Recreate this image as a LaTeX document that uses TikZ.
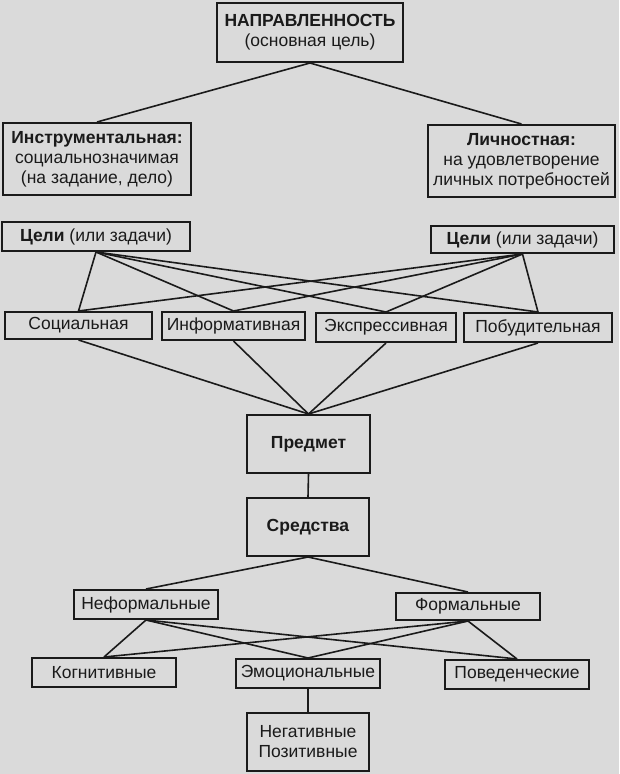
\documentclass[tikz,border=0pt]{standalone}
\usepackage{fontspec}
\setmainfont{Liberation Sans}
\definecolor{bg}{HTML}{DADADA}
\definecolor{ink}{HTML}{1A1A1A}
\begin{document}
\begin{tikzpicture}[x=1pt,y=-1pt]
\tikzset{
  box/.style={draw=ink, line width=2pt, inner sep=0pt, align=center,
    font=\fontsize{17.5}{20}\selectfont, text=ink},
  link/.style={draw=ink, line width=1.6pt}
}
\fill[bg] (0,0) rectangle (619,774);
\useasboundingbox (0,0) rectangle (619,774);

\node[box, minimum width=186pt, minimum height=59pt] (top) at (310,32.5) {\textbf{НАПРАВЛЕННОСТЬ}\\(основная цель)};
\node[box, minimum width=188pt, minimum height=72pt] (instr) at (97,159) {\textbf{Инструментальная:}\\социальнозначимая\\(на задание, дело)};
\node[box, minimum width=187pt, minimum height=72pt] (lich) at (521.5,161) {\textbf{Личностная:}\\на удовлетворение\\личных потребностей};
\node[box, minimum width=188pt, minimum height=29pt] (celiL) at (96,236.5) {\textbf{Цели} (или задачи)};
\node[box, minimum width=183pt, minimum height=27pt] (celiR) at (522.5,239.5) {\textbf{Цели} (или задачи)};

\node[box, minimum width=147pt, minimum height=27pt] (soc) at (78.5,325.5) {Социальная};
\node[box, minimum width=143pt, minimum height=28pt] (inf) at (233.5,326) {Информативная};
\node[box, minimum width=140pt, minimum height=29pt] (exp) at (386,327.5) {Экспрессивная};
\node[box, minimum width=148pt, minimum height=29pt] (pob) at (538,327.5) {Побудительная};

\node[box, minimum width=123pt, minimum height=58pt] (pred) at (308.5,444) {\textbf{Предмет}};
\node[box, minimum width=122pt, minimum height=58pt] (sred) at (308,527) {\textbf{Средства}};

\node[box, minimum width=144pt, minimum height=29pt] (neform) at (146,604.5) {Неформальные};
\node[box, minimum width=144pt, minimum height=27pt] (form) at (468,606.5) {Формальные};

\node[box, minimum width=144pt, minimum height=29pt] (kogn) at (104,672.5) {Когнитивные};
\node[box, minimum width=144pt, minimum height=29pt] (emo) at (308,673.5) {Эмоциональные};
\node[box, minimum width=144pt, minimum height=29pt] (pov) at (517,674.5) {Поведенческие};

\node[box, minimum width=122pt, minimum height=58pt] (neg) at (308,742) {Негативные\\Позитивные};

\draw[link] (top.south) -- (instr.north);
\draw[link] (top.south) -- (lich.north);

\foreach \t in {soc,inf,exp,pob}{
  \draw[link] (celiL.south) -- (\t.north);
  \draw[link] (celiR.south) -- (\t.north);
  \draw[link] (\t.south) -- (pred.north);
}
\draw[link] (pred.south) -- (sred.north);
\draw[link] (sred.south) -- (neform.north);
\draw[link] (sred.south) -- (form.north);
\foreach \t in {kogn,emo,pov}{
  \draw[link] (neform.south) -- (\t.north);
  \draw[link] (form.south) -- (\t.north);
}
\draw[link] (emo.south) -- (neg.north);
\end{tikzpicture}
\end{document}
